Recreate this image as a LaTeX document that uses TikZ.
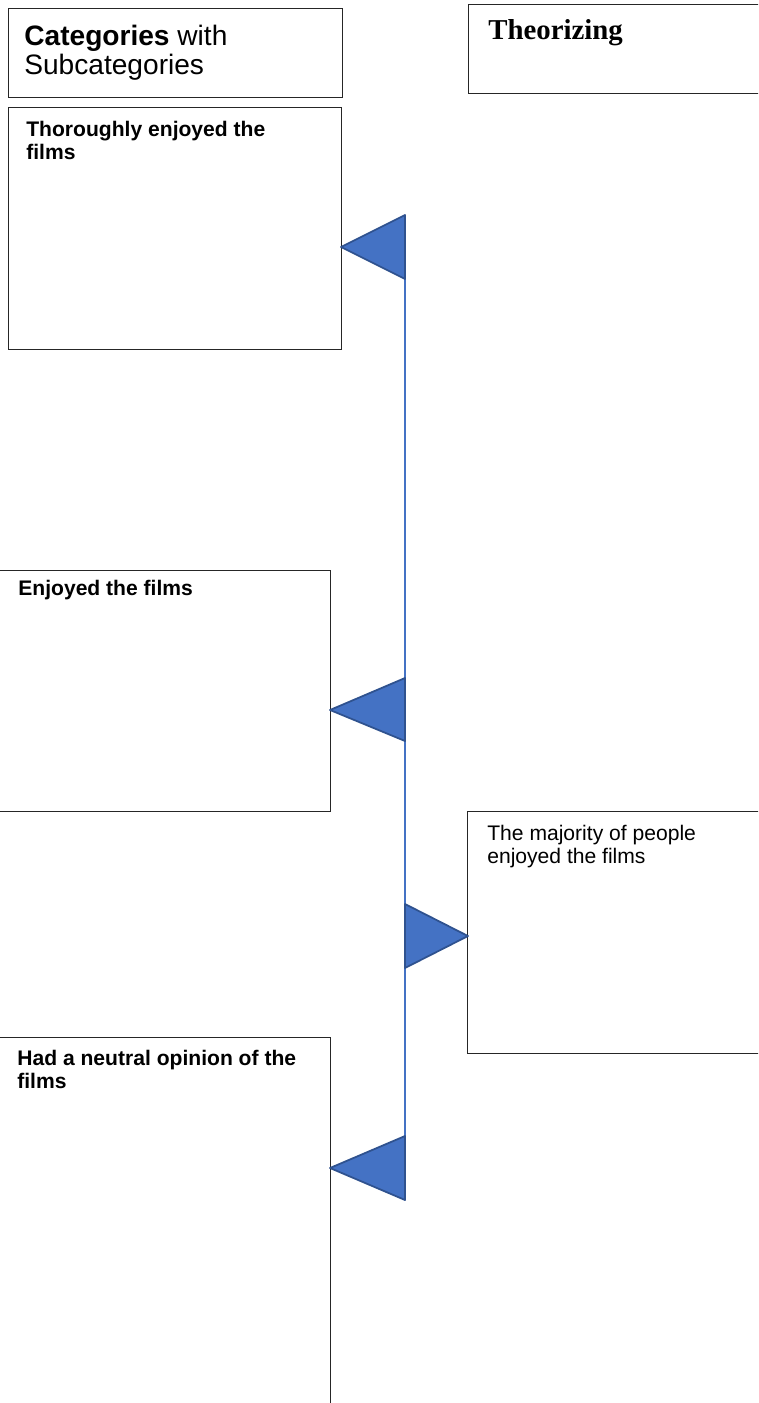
\documentclass[tikz,border=0pt]{standalone}
\usepackage{fontspec}
\setmainfont{Liberation Sans}
\newfontfamily\timesfont{Liberation Serif}
\usetikzlibrary{positioning}
\definecolor{triblue}{HTML}{4472C4}
\definecolor{triedge}{HTML}{2F528F}
\tikzset{
  box/.style={draw=black!85,line width=0.8pt,anchor=north west,inner sep=0pt},
  headtext/.style={anchor=base west,inner sep=0pt,align=left,
    font=\fontsize{16}{14.7}\selectfont},
  boxtext/.style={anchor=base west,inner sep=0pt,align=left,
    font=\fontsize{12}{13}\selectfont},
  tri/.style={fill=triblue,draw=triedge,line width=1pt,line join=round}
}
\begin{document}
\begin{tikzpicture}[x=0.02cm,y=-0.02cm]
\useasboundingbox (0,0) rectangle (758,1403);
\clip (0,0) rectangle (758,1403);
% headers
\node[box,minimum width=6.68cm,minimum height=1.78cm] (cathead) at (8,8) {};
\node[headtext] (cattext) at (24,74) {\textbf{Categories} with\\Subcategories};
\node[box,minimum width=6.1cm,minimum height=1.78cm] (theohead) at (468,4) {};
\node[headtext,font=\timesfont\bfseries\fontsize{16.4}{18}\selectfont] (theotext) at (488,39) {Theorizing};
% category boxes
\node[box,minimum width=6.66cm,minimum height=4.84cm] (thorough) at (8,107) {};
\node[boxtext,font=\bfseries\fontsize{12}{13}\selectfont] (thoroughtext) at (26,159) {Thoroughly enjoyed the\\films};
\node[box,minimum width=6.7cm,minimum height=4.82cm] (enjoyed) at (-5,570) {};
\node[boxtext,font=\bfseries\fontsize{12}{13}\selectfont] (enjoyedtext) at (18,595) {Enjoyed the films};
\node[box,minimum width=6.7cm,minimum height=7.5cm] (neutral) at (-5,1037) {};
\node[boxtext,font=\bfseries\fontsize{12}{13}\selectfont] (neutraltext) at (17,1088) {Had a neutral opinion of the\\films};
% theory box
\node[box,minimum width=6.1cm,minimum height=4.84cm] (majority) at (467,811) {};
\node[boxtext] (majoritytext) at (487,863) {The majority of people\\enjoyed the films};
% timeline
\coordinate (linetop) at (405,215);
\coordinate (linebot) at (405,1200);
\draw[triblue,line width=0.7pt] (linetop) -- (linebot);
\draw[tri] (341,247) -- (405,215) -- (405,279) -- cycle;
\draw[tri] (330,710) -- (405,678) -- (405,741) -- cycle;
\draw[tri] (468,936) -- (405,904) -- (405,968) -- cycle;
\draw[tri] (330,1168) -- (405,1136) -- (405,1200) -- cycle;
\end{tikzpicture}
\end{document}
